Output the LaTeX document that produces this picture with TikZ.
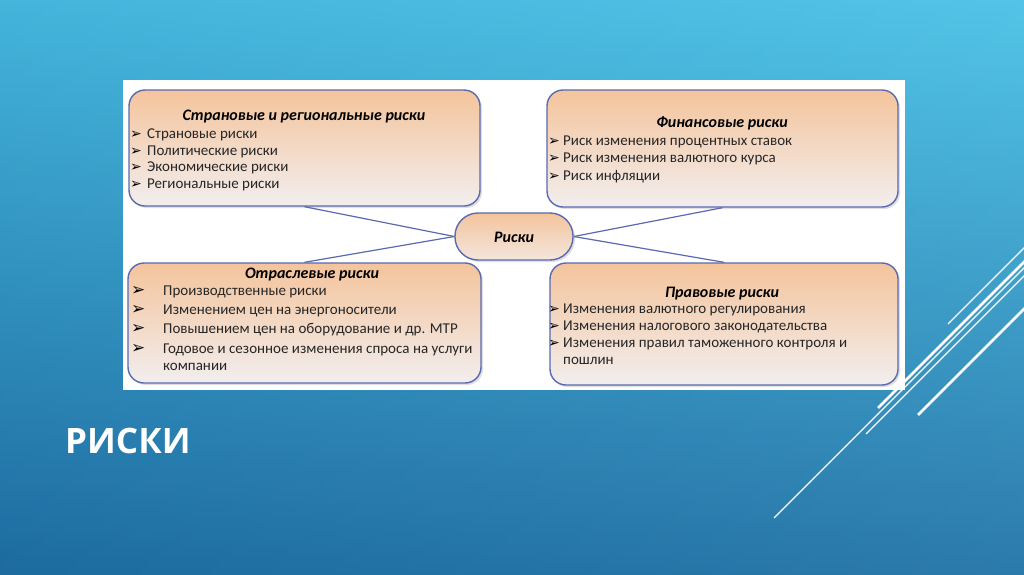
\documentclass[tikz,border=0pt]{standalone}
\usepackage{fontspec}
\setmainfont{Carlito}
\newfontfamily\dejavu{DejaVu Sans}
\newfontfamily\headfont{Open Sans}
\usetikzlibrary{shadows}
\definecolor{bgtop}{HTML}{4BC2E6}
\definecolor{bgbot}{HTML}{1D6BA0}
\definecolor{peach}{HTML}{F4C49C}
\definecolor{pale}{HTML}{F2EEEE}
\definecolor{edge}{HTML}{5A69B0}
\tikzset{
  box/.style={draw=edge, line width=1.4pt, rounded corners=16pt, top color=peach, bottom color=pale, inner sep=0pt,
    drop shadow={shadow xshift=2pt, shadow yshift=-2pt, opacity=0.25}},
  hub/.style={draw=edge, line width=1.4pt, rounded corners=23pt, top color=peach, bottom color=pale!80!peach, inner sep=0pt,
    drop shadow={shadow xshift=2pt, shadow yshift=-2pt, opacity=0.25}},
  link/.style={draw=edge, line width=1.2pt},
  ttl/.style={anchor=base, inner sep=0pt, font=\fontsize{16}{18}\selectfont\bfseries\itshape},
  item/.style={anchor=base west, inner sep=0pt, font=\fontsize{15}{17}\selectfont, text=black!85},
  blt/.style={anchor=base west, inner sep=0pt, font=\dejavu\fontsize{14}{14}\selectfont},
  bltb/.style={anchor=base west, inner sep=0pt, font=\dejavu\fontsize{17}{17}\selectfont},
  deco/.style={draw=white, line width=1.2pt},
  decob/.style={draw=white, line width=2.6pt}
}
\begin{document}
\begin{tikzpicture}[x=1pt,y=-1pt]
\useasboundingbox (0,0) rectangle (1024,574);
\shade[top color=bgtop, bottom color=bgbot] (0,0) rectangle (1024,574);
\shade[left color=bgbot, right color=bgtop!70!white, opacity=0.15] (0,0) rectangle (1024,574);

% decorative lines
\draw[deco] (948,324) -- (1030,242);
\draw[decob] (878,408) -- (1030,256);
\draw[deco] (866,434) -- (1030,270);
\draw[deco] (774,518) -- (1030,262);
\draw[decob] (918,415) -- (1030,303);

% panel
\node[fill=white, minimum width=782pt, minimum height=310pt, inner sep=0pt] (panel) at (514,235) {};

% boxes
\node[box, minimum width=351pt, minimum height=116pt] (tl) at (304.5,148) {};
\node[box, minimum width=351pt, minimum height=117pt] (tr) at (722.5,148.5) {};
\node[box, minimum width=353pt, minimum height=120pt] (bl) at (304.5,323) {};
\node[box, minimum width=348pt, minimum height=122pt] (br) at (724,324) {};

% hub and connectors
\node[hub, minimum width=118pt, minimum height=47pt] (c) at (514,236.5) {};
\draw[link] (c.west) -- (tl.south);
\draw[link] (c.west) -- (bl.north);
\draw[link] (c.east) -- (tr.south);
\draw[link] (c.east) -- (br.north);
\node[ttl] (ct) at (514,242) {Риски};

% top-left
\node[ttl] (tlt) at (304,120.5) {Страновые и региональные риски};
\node[blt] (tlb1) at (130,138) {➢};
\node[blt] (tlb2) at (130,155) {➢};
\node[blt] (tlb3) at (130,171.7) {➢};
\node[blt] (tlb4) at (130,188.3) {➢};
\node[item] (tli1) at (147,138) {Страновые риски};
\node[item] (tli2) at (147,155) {Политические риски};
\node[item] (tli3) at (147,171.7) {Экономические риски};
\node[item] (tli4) at (147,188.3) {Региональные риски};

% top-right
\node[ttl] (trt) at (722,127.5) {Финансовые риски};
\node[blt] (trb1) at (548,145) {➢};
\node[blt] (trb2) at (548,162.5) {➢};
\node[blt] (trb3) at (548,180) {➢};
\node[item] (tri1) at (563,145) {Риск изменения процентных ставок};
\node[item] (tri2) at (563,162.5) {Риск изменения валютного курса};
\node[item] (tri3) at (563,180) {Риск инфляции};

% bottom-left
\node[ttl] (blt0) at (312,278) {Отраслевые риски};
\node[bltb] (blb1) at (131,295) {➢};
\node[bltb] (blb2) at (131,314) {➢};
\node[bltb] (blb3) at (131,333.5) {➢};
\node[bltb] (blb4) at (131,353) {➢};
\node[item] (bli1) at (163,295) {Производственные риски};
\node[item] (bli2) at (163,314) {Изменением цен на энергоносители};
\node[item] (bli3) at (163,333.5) {Повышением цен на оборудование и др. МТР};
\node[item] (bli4) at (163,353) {Годовое и сезонное изменения спроса на услуги};
\node[item] (bli5) at (163,370) {компании};

% bottom-right
\node[ttl] (brt) at (722,297) {Правовые риски};
\node[blt] (brb1) at (548,313) {➢};
\node[blt] (brb2) at (548,330) {➢};
\node[blt] (brb3) at (548,347) {➢};
\node[item] (bri1) at (563,313) {Изменения валютного регулирования};
\node[item] (bri2) at (563,330) {Изменения налогового законодательства};
\node[item] (bri3) at (563,347) {Изменения правил таможенного контроля и};
\node[item] (bri4) at (563,364) {пошлин};

% slide title
\node[anchor=base west, inner sep=0pt, text=white, font=\headfont\bfseries\fontsize{35}{40}\selectfont] (title) at (65,453) {РИСКИ};
\end{tikzpicture}
\end{document}
